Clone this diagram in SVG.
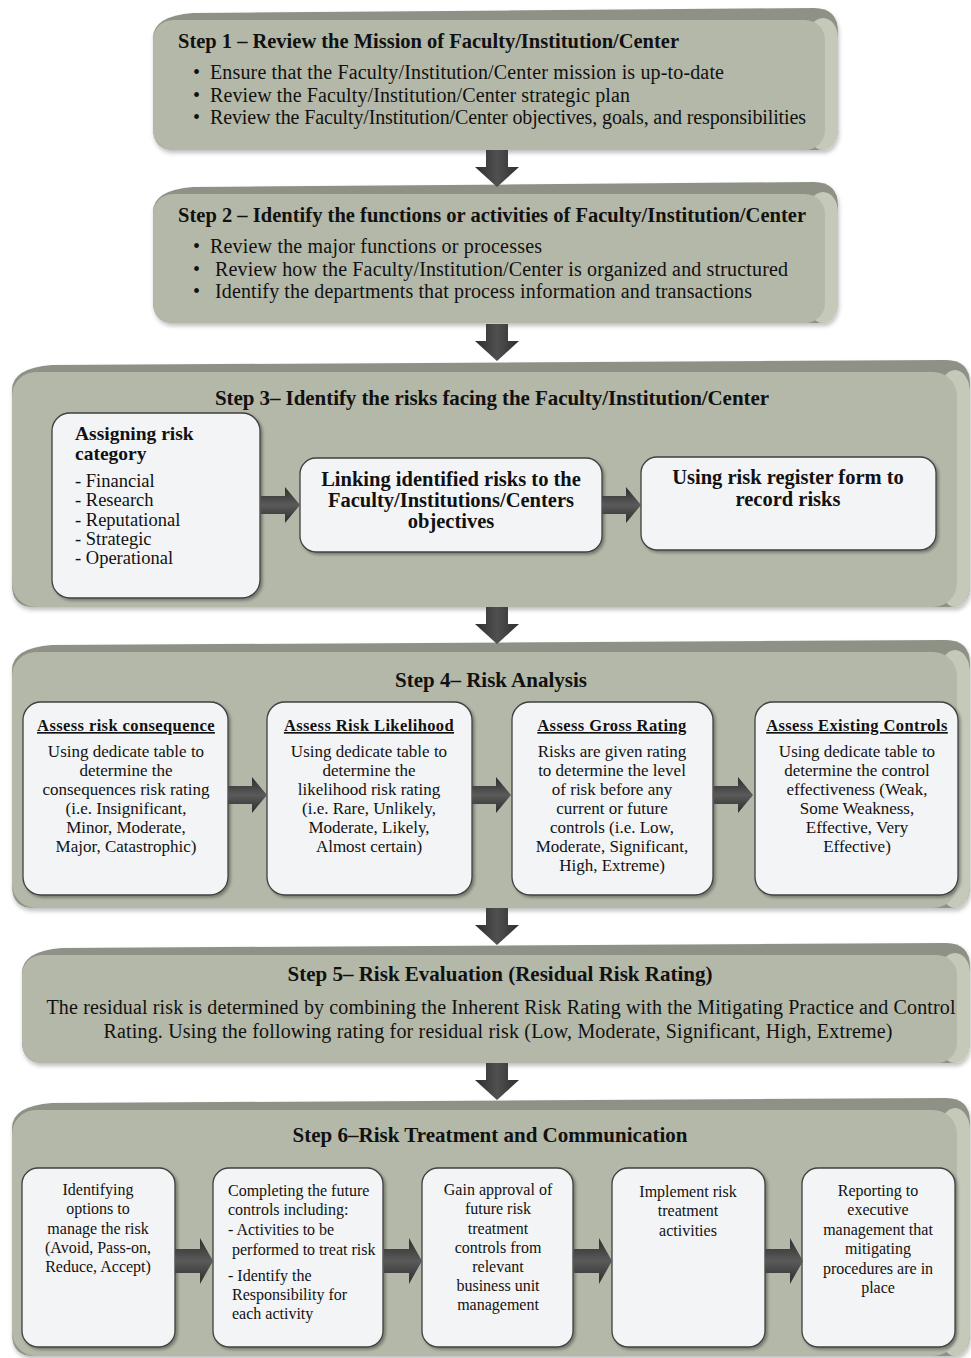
<svg xmlns="http://www.w3.org/2000/svg" xmlns:xlink="http://www.w3.org/1999/xlink" width="971" height="1358" viewBox="0 0 971 1358">
<style>
.fb{fill:#8e9286}
.fr{fill:#c5c9ba}
.fm{fill:#b4b8a8}
.ib{fill:#f3f4f6;stroke:#404040;stroke-width:1.3}
text{font-family:"Liberation Serif","Times New Roman",serif;fill:#111}
.t{font-size:20.5px;font-weight:bold}
.ta{font-size:19.5px;font-weight:bold}
.tt{font-size:21px;font-weight:bold;text-anchor:middle}
.b{font-size:20px}
.li{font-size:18.5px}
.m{text-anchor:middle}
.h4{font-size:16.5px;font-weight:bold;text-decoration:underline;text-anchor:middle;letter-spacing:0.4px}
.s4{font-size:17px;text-anchor:middle}
.s6{font-size:16px}
</style>
<defs>
<filter id="fs" x="-5%" y="-5%" width="110%" height="115%"><feDropShadow dx="1" dy="3" stdDeviation="2" flood-color="#000" flood-opacity="0.25"/></filter>
<filter id="bs" x="-10%" y="-10%" width="120%" height="120%"><feDropShadow dx="2" dy="2" stdDeviation="1.5" flood-color="#000" flood-opacity="0.35"/></filter>
<linearGradient id="gv" x1="0" y1="0" x2="1" y2="0"><stop offset="0" stop-color="#2e2e2e"/><stop offset="0.5" stop-color="#505050"/><stop offset="1" stop-color="#2e2e2e"/></linearGradient>
<linearGradient id="gh" x1="0" y1="0" x2="0" y2="1"><stop offset="0" stop-color="#2c2c2c"/><stop offset="0.5" stop-color="#5a5a5a"/><stop offset="1" stop-color="#2c2c2c"/></linearGradient>
<path id="va" d="M-11,0 H11 V17 H22 L0,37 L-22,17 H-11 Z" fill="url(#gv)"/>
<path id="ha" d="M0,-9 H24 V-18 L39,0 L24,18 V9 H0 Z" fill="url(#gh)"/>
<path id="hb" d="M0,-12 H25 V-23 L38,0 L25,23 V12 H0 Z" fill="url(#gh)"/>
</defs>

<g id="step1" filter="url(#fs)">
<path class="fb" d="M153,128 V38 Q153,16 193,13 L814,8 Q838,8 838,32 V128 Q838,150 816,150 H175 Q153,150 153,128 Z"/>
<rect class="fr" x="808" y="18" width="30" height="132" rx="20"/>
<rect class="fm" x="153" y="20" width="672" height="130" rx="20"/>
</g>
<g id="step1-text">
<text class="t" x="178" y="48" textLength="501">Step 1 – Review the Mission of Faculty/Institution/Center</text>
<text class="b" x="193" y="79">•</text><text class="b" x="210" y="79" textLength="514">Ensure that the Faculty/Institution/Center mission is up-to-date</text>
<text class="b" x="193" y="102">•</text><text class="b" x="210" y="102" textLength="420">Review the Faculty/Institution/Center strategic plan</text>
<text class="b" x="193" y="124">•</text><text class="b" x="210" y="124" textLength="596">Review the Faculty/Institution/Center objectives, goals, and responsibilities</text>
</g>

<g id="step2" filter="url(#fs)">
<path class="fb" d="M153,301 V212 Q153,190 193,187 L814,182 Q838,182 838,206 V301 Q838,323 816,323 H175 Q153,323 153,301 Z"/>
<rect class="fr" x="808" y="192" width="30" height="131" rx="20"/>
<rect class="fm" x="153" y="194" width="672" height="129" rx="20"/>
</g>
<g id="step2-text">
<text class="t" x="178" y="222" textLength="628">Step 2 – Identify the functions or activities of Faculty/Institution/Center</text>
<text class="b" x="193" y="253">•</text><text class="b" x="210" y="253" textLength="332">Review the major functions or processes</text>
<text class="b" x="193" y="276">•</text><text class="b" x="215" y="276" textLength="573">Review how the Faculty/Institution/Center is organized and structured</text>
<text class="b" x="193" y="298">•</text><text class="b" x="215" y="298" textLength="537">Identify the departments that process information and transactions</text>
</g>

<g id="step3" filter="url(#fs)">
<path class="fb" d="M12,585 V390 Q12,368 52,365 L946,360 Q970,360 970,384 V585 Q970,607 948,607 H34 Q12,607 12,585 Z"/>
<rect class="fr" x="940" y="370" width="30" height="237" rx="22"/>
<rect class="fm" x="12" y="372" width="945" height="235" rx="24"/>
</g>
<text class="tt" x="492" y="405" textLength="554">Step 3– Identify the risks facing the Faculty/Institution/Center</text>

<g id="s3-category">
<rect class="ib" filter="url(#bs)" x="52" y="413" width="208" height="185" rx="18"/>
<text class="ta" x="75" y="440">Assigning risk</text>
<text class="ta" x="75" y="460">category</text>
<text class="li" x="75" y="487">- Financial</text>
<text class="li" x="75" y="506">- Research</text>
<text class="li" x="75" y="525.5">- Reputational</text>
<text class="li" x="75" y="544.5">- Strategic</text>
<text class="li" x="75" y="563.5">- Operational</text>
</g>
<g id="s3-linking">
<rect class="ib" filter="url(#bs)" x="300" y="458" width="302" height="94" rx="16"/>
<text class="t m" x="451" y="486">Linking identified risks to the</text>
<text class="t m" x="451" y="507">Faculty/Institutions/Centers</text>
<text class="t m" x="451" y="528">objectives</text>
</g>
<g id="s3-register">
<rect class="ib" filter="url(#bs)" x="641" y="457" width="295" height="93" rx="16"/>
<text class="t m" x="788" y="484">Using risk register form to</text>
<text class="t m" x="788" y="506">record risks</text>
</g>

<g id="step4" filter="url(#fs)">
<path class="fb" d="M12,886 V670 Q12,648 52,645 L946,640 Q970,640 970,664 V886 Q970,908 948,908 H34 Q12,908 12,886 Z"/>
<rect class="fr" x="940" y="650" width="30" height="258" rx="22"/>
<rect class="fm" x="12" y="652" width="945" height="256" rx="24"/>
</g>
<text class="tt" x="491" y="687">Step 4– Risk Analysis</text>

<g id="s4-consequence">
<rect class="ib" filter="url(#bs)" x="23" y="702" width="205" height="193" rx="18"/>
<text class="h4" x="126" y="731">Assess risk consequence</text>
<text class="s4" x="126" y="757">Using dedicate table to</text>
<text class="s4" x="126" y="776">determine the</text>
<text class="s4" x="126" y="795">consequences risk rating</text>
<text class="s4" x="126" y="814">(i.e. Insignificant,</text>
<text class="s4" x="126" y="833">Minor, Moderate,</text>
<text class="s4" x="126" y="852">Major, Catastrophic)</text>
</g>
<g id="s4-likelihood">
<rect class="ib" filter="url(#bs)" x="267" y="702" width="205" height="193" rx="18"/>
<text class="h4" x="369" y="731">Assess Risk Likelihood</text>
<text class="s4" x="369" y="757">Using dedicate table to</text>
<text class="s4" x="369" y="776">determine the</text>
<text class="s4" x="369" y="795">likelihood risk rating</text>
<text class="s4" x="369" y="814">(i.e. Rare, Unlikely,</text>
<text class="s4" x="369" y="833">Moderate, Likely,</text>
<text class="s4" x="369" y="852">Almost certain)</text>
</g>
<g id="s4-gross">
<rect class="ib" filter="url(#bs)" x="512" y="702" width="201" height="193" rx="18"/>
<text class="h4" x="612" y="731">Assess Gross Rating</text>
<text class="s4" x="612" y="757">Risks are given rating</text>
<text class="s4" x="612" y="776">to determine the level</text>
<text class="s4" x="612" y="795">of risk before any</text>
<text class="s4" x="612" y="814">current or future</text>
<text class="s4" x="612" y="833">controls (i.e. Low,</text>
<text class="s4" x="612" y="852">Moderate, Significant,</text>
<text class="s4" x="612" y="871">High, Extreme)</text>
</g>
<g id="s4-controls">
<rect class="ib" filter="url(#bs)" x="755" y="702" width="203" height="193" rx="18"/>
<text class="h4" x="857" y="731">Assess Existing Controls</text>
<text class="s4" x="857" y="757">Using dedicate table to</text>
<text class="s4" x="857" y="776">determine the control</text>
<text class="s4" x="857" y="795">effectiveness  (Weak,</text>
<text class="s4" x="857" y="814">Some Weakness,</text>
<text class="s4" x="857" y="833">Effective, Very</text>
<text class="s4" x="857" y="852">Effective)</text>
</g>

<g id="step5" filter="url(#fs)">
<path class="fb" d="M22,1041 V973 Q22,951 62,948 L946,943 Q970,943 970,967 V1041 Q970,1063 948,1063 H44 Q22,1063 22,1041 Z"/>
<rect class="fr" x="940" y="953" width="30" height="110" rx="20"/>
<rect class="fm" x="22" y="955" width="935" height="108" rx="20"/>
</g>
<g id="step5-text">
<text class="tt" x="500" y="981" textLength="425">Step 5– Risk Evaluation (Residual Risk Rating)</text>
<text class="b m" x="501" y="1014" textLength="909">The residual risk is determined by combining the Inherent Risk Rating with the Mitigating Practice and Control</text>
<text class="b m" x="498" y="1038" textLength="789">Rating. Using the following rating for residual risk (Low, Moderate, Significant, High, Extreme)</text>
</g>

<g id="step6" filter="url(#fs)">
<path class="fb" d="M12,1334 V1128 Q12,1106 52,1103 L946,1098 Q970,1098 970,1122 V1334 Q970,1356 948,1356 H34 Q12,1356 12,1334 Z"/>
<rect class="fr" x="940" y="1108" width="30" height="248" rx="22"/>
<rect class="fm" x="12" y="1110" width="945" height="246" rx="24"/>
</g>
<text class="tt" x="490" y="1142" textLength="395">Step 6–Risk Treatment and Communication</text>

<g id="s6-options">
<rect class="ib" filter="url(#bs)" x="22" y="1168" width="153" height="179" rx="16"/>
<text class="s6 m" x="98" y="1195">Identifying</text>
<text class="s6 m" x="98" y="1214">options to</text>
<text class="s6 m" x="98" y="1234">manage the risk</text>
<text class="s6 m" x="98" y="1253">(Avoid, Pass-on,</text>
<text class="s6 m" x="98" y="1272">Reduce, Accept)</text>
</g>
<g id="s6-completing">
<rect class="ib" filter="url(#bs)" x="213" y="1168" width="170" height="179" rx="16"/>
<text class="s6" x="228" y="1196">Completing the future</text>
<text class="s6" x="228" y="1215">controls including:</text>
<text class="s6" x="228" y="1235">- Activities to be</text>
<text class="s6" x="232" y="1255">performed to treat risk</text>
<text class="s6" x="228" y="1281">- Identify the</text>
<text class="s6" x="232" y="1300">Responsibility for</text>
<text class="s6" x="232" y="1319">each activity</text>
</g>
<g id="s6-approval">
<rect class="ib" filter="url(#bs)" x="422" y="1168" width="151" height="179" rx="16"/>
<text class="s6 m" x="498" y="1195">Gain approval  of</text>
<text class="s6 m" x="498" y="1214">future risk</text>
<text class="s6 m" x="498" y="1234">treatment</text>
<text class="s6 m" x="498" y="1253">controls from</text>
<text class="s6 m" x="498" y="1272">relevant</text>
<text class="s6 m" x="498" y="1291">business unit</text>
<text class="s6 m" x="498" y="1310">management</text>
</g>
<g id="s6-implement">
<rect class="ib" filter="url(#bs)" x="612" y="1168" width="153" height="179" rx="16"/>
<text class="s6 m" x="688" y="1197">Implement risk</text>
<text class="s6 m" x="688" y="1216">treatment</text>
<text class="s6 m" x="688" y="1236">activities</text>
</g>
<g id="s6-reporting">
<rect class="ib" filter="url(#bs)" x="802" y="1168" width="153" height="179" rx="16"/>
<text class="s6 m" x="878" y="1196">Reporting to</text>
<text class="s6 m" x="878" y="1215">executive</text>
<text class="s6 m" x="878" y="1235">management that</text>
<text class="s6 m" x="878" y="1254">mitigating</text>
<text class="s6 m" x="878" y="1274">procedures are in</text>
<text class="s6 m" x="878" y="1293">place</text>
</g>

<g id="connectors">
<use href="#va" x="497" y="150"/>
<use href="#va" x="497" y="324"/>
<use href="#va" x="497" y="607"/>
<use href="#va" x="497" y="908"/>
<use href="#va" x="497" y="1063"/>
<use href="#ha" x="261" y="505"/>
<use href="#ha" x="602" y="505"/>
<use href="#ha" x="228" y="795"/>
<use href="#ha" x="472" y="795"/>
<use href="#ha" x="714" y="795"/>
<use href="#hb" x="175" y="1261"/>
<use href="#hb" x="384" y="1261"/>
<use href="#hb" x="574" y="1261"/>
<use href="#hb" x="765" y="1261"/>
</g>
</svg>
